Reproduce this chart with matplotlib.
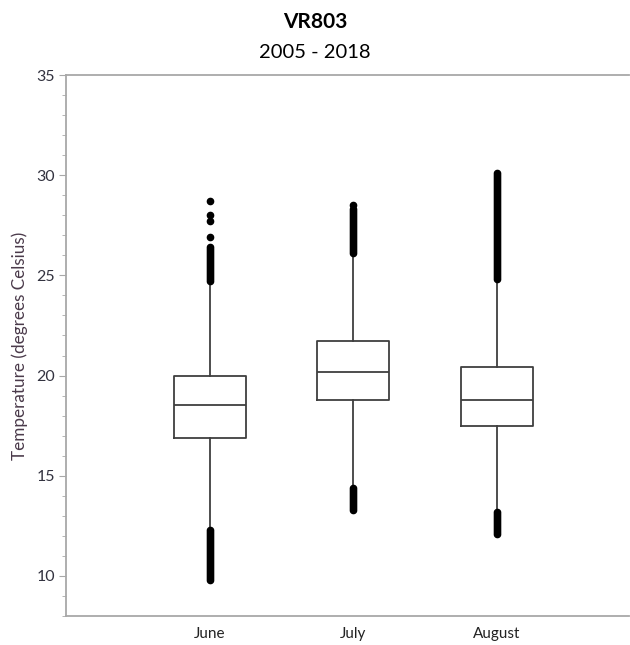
import matplotlib
matplotlib.use('Agg')
import matplotlib.pyplot as plt
from matplotlib.ticker import MultipleLocator

# summary values (degrees Celsius)
months = ['June', 'July', 'August']
q1 = [16.9, 18.8, 17.5]
median = [18.55, 20.2, 18.8]
q3 = [20.0, 21.7, 20.45]
whisker_low = [12.4, 14.5, 13.3]
whisker_high = [24.6, 26.0, 24.7]

# outliers
june_fliers = [9.8, 9.9, 10.0, 10.1, 10.2, 10.3, 10.4, 10.5, 10.6, 10.7, 10.8,
               10.9, 11.0, 11.1, 11.2, 11.3, 11.4, 11.5, 11.6, 11.7, 11.8, 11.9,
               12.0, 12.1, 12.2, 12.3,
               24.7, 24.8, 24.9, 25.0, 25.1, 25.2, 25.3, 25.4, 25.5, 25.6, 25.7,
               25.8, 25.9, 26.0, 26.1, 26.2, 26.3, 26.4,
               26.9, 27.7, 28.0, 28.7]
july_fliers = [13.3, 13.4, 13.5, 13.6, 13.7, 13.8, 13.9, 14.0, 14.1, 14.2, 14.3, 14.4,
               26.1, 26.2, 26.3, 26.4, 26.5, 26.6, 26.7, 26.8, 26.9, 27.0, 27.1,
               27.2, 27.3, 27.4, 27.5, 27.6, 27.7, 27.8, 27.9, 28.0, 28.1, 28.2,
               28.3, 28.5]
august_fliers = [12.1, 12.2, 12.3, 12.4, 12.5, 12.6, 12.7, 12.8, 12.9, 13.0, 13.1, 13.2,
                 24.8, 24.9, 25.0, 25.1, 25.2, 25.3, 25.4, 25.5, 25.6, 25.7, 25.8,
                 25.9, 26.0, 26.1, 26.2, 26.3, 26.4, 26.5, 26.6, 26.7, 26.8, 26.9,
                 27.0, 27.1, 27.2, 27.3, 27.4, 27.5, 27.6, 27.7, 27.8, 27.9, 28.0,
                 28.1, 28.2, 28.3, 28.4, 28.5, 28.6, 28.7, 28.8, 28.9, 29.0, 29.1,
                 29.2, 29.3, 29.4, 29.5, 29.6, 29.7, 29.8, 29.9, 30.0, 30.1]
fliers = [june_fliers, july_fliers, august_fliers]

stats = []
for i, m in enumerate(months):
    stats.append({'label': m, 'q1': q1[i], 'med': median[i], 'q3': q3[i],
                  'whislo': whisker_low[i], 'whishi': whisker_high[i],
                  'fliers': fliers[i]})

plt.rcParams['font.family'] = ['Lato', 'DejaVu Sans']

fig = plt.figure(figsize=(6.3, 6.45), dpi=100)
ax = fig.add_axes([66 / 630, 1 - 616 / 645, 563 / 630, (616 - 75) / 645])

line_col = '#3f3f3f'
ax.bxp(stats, positions=[1, 2, 3], widths=0.5, showcaps=False,
       boxprops=dict(color=line_col, linewidth=1.3),
       whiskerprops=dict(color=line_col, linewidth=1.3),
       medianprops=dict(color=line_col, linewidth=1.3),
       flierprops=dict(marker='o', markerfacecolor='black', markeredgecolor='black',
                       markersize=4.5, linestyle='none'))

ax.set_xlim(0, 3.92)
ax.set_ylim(8, 35)
ax.yaxis.set_major_locator(MultipleLocator(5))
ax.yaxis.set_minor_locator(MultipleLocator(1))

spine_col = '#a8a8a8'
for s in ['left', 'top', 'bottom']:
    ax.spines[s].set_color(spine_col)
    ax.spines[s].set_linewidth(1.3)
ax.spines['right'].set_visible(False)

ax.tick_params(axis='y', which='major', length=5, color=spine_col, labelsize=11.5,
               labelcolor='#333340', pad=3)
ax.tick_params(axis='y', which='minor', length=3, color=spine_col)
ax.tick_params(axis='x', length=0, labelsize=11, labelcolor='#222222', pad=8)

ax.set_ylabel('Temperature (degrees Celsius)', fontsize=12.3, color='#4a3a4a')
ax.yaxis.set_label_coords(-0.068, 0.5)

fig.text(0.5, 1 - 22 / 645, 'VR803', ha='center', va='center', fontsize=15,
         fontweight='bold')
fig.text(0.5, 1 - 53 / 645, '2005 - 2018', ha='center', va='center', fontsize=14.5)

plt.savefig('out.png', dpi=100)
